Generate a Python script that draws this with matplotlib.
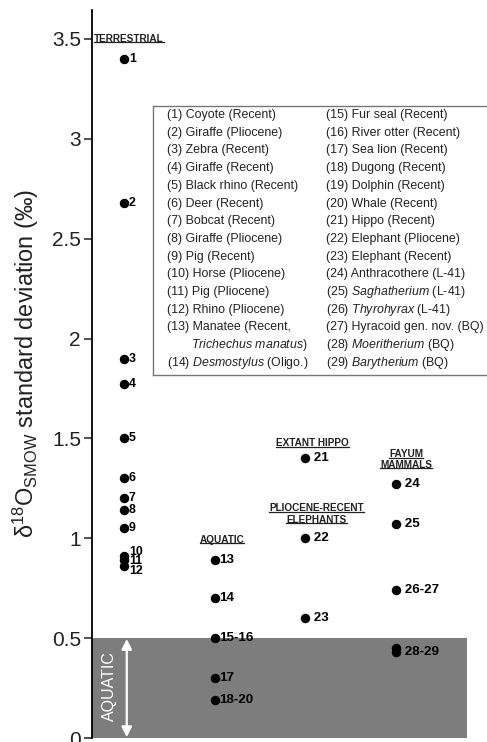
import matplotlib
matplotlib.use("Agg")
import matplotlib.pyplot as plt
from matplotlib.lines import Line2D

plt.rcParams['font.family'] = ['Liberation Sans', 'DejaVu Sans']
plt.rcParams['mathtext.fontset'] = 'custom'
plt.rcParams['mathtext.rm'] = 'Liberation Sans'
plt.rcParams['mathtext.it'] = 'Liberation Sans:italic'
plt.rcParams['mathtext.bf'] = 'Liberation Sans:bold'

# données
groups = ['TERRESTRIAL', 'AQUATIC', 'EXTANT HIPPO', 'PLIOCENE-RECENT\nELEPHANTS', 'FAYUM\nMAMMALS']

terrestrial_labels = ['1', '2', '3', '4', '5', '6', '7', '8', '9', '10', '11', '12']
terrestrial_sd = [3.40, 2.68, 1.90, 1.77, 1.50, 1.30, 1.20, 1.14, 1.05, 0.91, 0.89, 0.86]

aquatic_labels = ['13', '14', '15-16', '17', '18-20']
aquatic_sd = [0.89, 0.70, 0.50, 0.30, 0.19]

hippo_labels = ['21']
hippo_sd = [1.40]

elephant_labels = ['22', '23']
elephant_sd = [1.00, 0.60]

fayum_labels = ['24', '25', '26-27', '28-29', '']
fayum_sd = [1.27, 1.07, 0.74, 0.43, 0.45]

aquatic_threshold = 0.5

legend_col1 = [
    '(1) Coyote (Recent)', '(2) Giraffe (Pliocene)', '(3) Zebra (Recent)',
    '(4) Giraffe (Recent)', '(5) Black rhino (Recent)', '(6) Deer (Recent)',
    '(7) Bobcat (Recent)', '(8) Giraffe (Pliocene)', '(9) Pig (Recent)',
    '(10) Horse (Pliocene)', '(11) Pig (Pliocene)', '(12) Rhino (Pliocene)',
    '(13) Manatee (Recent,', r'$\mathit{Trichechus\ manatus}$)',
    r'(14) $\mathit{Desmostylus}$ (Oligo.)',
]
legend_col2 = [
    '(15) Fur seal (Recent)', '(16) River otter (Recent)', '(17) Sea lion (Recent)',
    '(18) Dugong (Recent)', '(19) Dolphin (Recent)', '(20) Whale (Recent)',
    '(21) Hippo (Recent)', '(22) Elephant (Pliocene)', '(23) Elephant (Recent)',
    '(24) Anthracothere (L-41)', r'(25) $\mathit{Saghatherium}$ (L-41)',
    r'(26) $\mathit{Thyrohyrax}$ (L-41)', '(27) Hyracoid gen. nov. (BQ)',
    r'(28) $\mathit{Moeritherium}$ (BQ)', r'(29) $\mathit{Barytherium}$ (BQ)',
]

W, H = 487, 742
TXT = '#222222'
fig = plt.figure(figsize=(W / 100, H / 100), dpi=100)
ax = fig.add_axes([92 / W, 4 / H, (467 - 92) / W, (738 - 10) / H])
ax.set_xlim(-0.353, 3.78)
ax.set_ylim(0, 3.645)

# zone aquatique
ax.axhspan(0, aquatic_threshold, color='#7d7d7d', lw=0, zorder=0)
ax.annotate('', xy=(0.03, 0.004), xytext=(0.03, aquatic_threshold - 0.004),
            arrowprops=dict(arrowstyle='<|-|>', color='white', lw=1.6,
                            mutation_scale=15, shrinkA=0, shrinkB=0))
ax.text(-0.165, 0.26, 'AQUATIC', rotation=90, color='white', fontsize=11.5,
        ha='center', va='center')

def plot_group(col, values, labels, size=9.6, space='', offsets=None):
    ax.plot([col] * len(values), values, 'o', color='black', ms=5.8, zorder=3)
    offsets = offsets or {}
    for v, lab in zip(values, labels):
        if lab:
            ax.annotate(space + lab, (col, v), xytext=(3.5, offsets.get(lab, 0)),
                        textcoords='offset points', fontsize=size, fontweight='bold',
                        va='center', ha='left')

plot_group(0, terrestrial_sd, terrestrial_labels, size=8.9,
           offsets={'10': 3.2, '11': -0.5, '12': -3.6})
plot_group(1, aquatic_sd, aquatic_labels)
plot_group(2, hippo_sd, hippo_labels, space=' ')
plot_group(2, elephant_sd, elephant_labels, space=' ')
plot_group(3, fayum_sd, fayum_labels, space=' ')

# titres de groupes soulignés
TITLE_FS = 7.2
group_pos = [(-0.33, 3.5, 'left'), (1.08, 0.99, 'center'), (2.08, 1.475, 'center'),
             (2.12, 1.123, 'center'), (3.11, 1.395, 'center')]
group_texts = []
for name, (x, y, ha) in zip(groups, group_pos):
    t = ax.text(x, y, name, fontsize=TITLE_FS, fontweight='bold', ha=ha, va='center',
                color=TXT, linespacing=1.2)
    group_texts.append(t)

ax.spines[['top', 'right', 'bottom']].set_visible(False)
ax.spines['left'].set_linewidth(1.3)
ax.set_xticks([])
ax.set_yticks([0, 0.5, 1, 1.5, 2, 2.5, 3, 3.5])
ax.set_yticklabels(['0', '0.5', '1', '1.5', '2', '2.5', '3', '3.5'])
ax.tick_params(axis='y', length=6, width=1.1, labelsize=15, pad=2, colors=TXT)
ax.set_ylabel(r'δ$^{18}$O$_{\mathrm{SMOW}}$ standard deviation (‰)', fontsize=16.9,
              color=TXT)
ax.yaxis.set_label_coords(-0.135, 0.515)

# boîte de légende
box_top, box_bot = 106, 375
lax = fig.add_axes([153 / W, (H - box_bot) / H, (W - 153) / W, (box_bot - box_top) / H])
lax.set_xticks([])
lax.set_yticks([])
lax.spines['right'].set_visible(False)
for s in lax.spines.values():
    s.set_color('#777777')
    s.set_linewidth(1.0)
box_h = box_bot - box_top
box_w = W - 153
for i, line in enumerate(legend_col1):
    x = 14 if i != 13 else 38
    lax.text(x / box_w, 1 - (9 + 17.7 * i) / box_h, line, fontsize=8.9, va='center', color=TXT)
for i, line in enumerate(legend_col2):
    lax.text(173 / box_w, 1 - (9 + 17.7 * i) / box_h, line, fontsize=8.9, va='center', color=TXT)

# soulignement des titres
fig.canvas.draw()
r = fig.canvas.get_renderer()
for t in group_texts:
    lines = t.get_text().split('\n')
    bb = t.get_window_extent(r)
    lh = bb.height / len(lines)
    for k, line in enumerate(lines):
        tmp = ax.text(0, 0, line, fontsize=TITLE_FS, fontweight='bold')
        w = tmp.get_window_extent(r).width
        tmp.remove()
        if t.get_ha() == 'left':
            x0 = bb.x0
        else:
            x0 = (bb.x0 + bb.x1) / 2 - w / 2
        y = bb.y1 - lh * (k + 1) + 1.8
        fig.add_artist(Line2D([x0 / W, (x0 + w) / W], [y / H, y / H],
                              color=TXT, lw=0.9, transform=fig.transFigure))

fig.savefig('out.png', dpi=100)
